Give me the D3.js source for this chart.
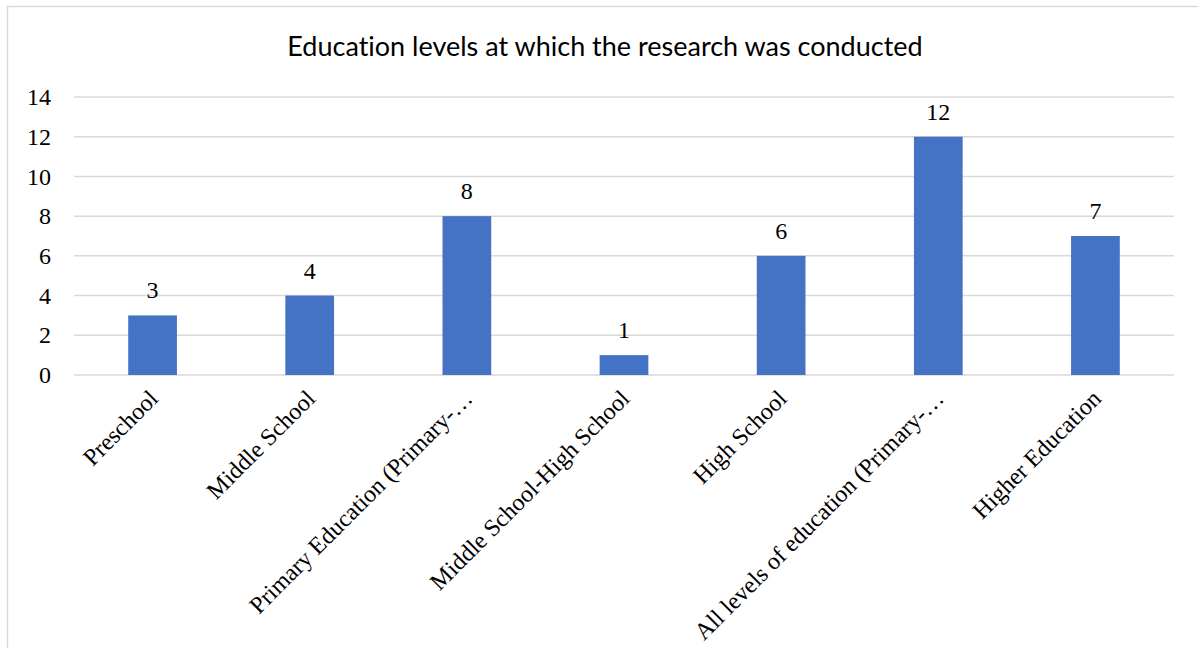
<!DOCTYPE html>
<html lang="en">
<head>
    <meta charset="UTF-8">
    <title>Education levels at which the research was conducted</title>
    <script src="https://d3js.org/d3.v7.min.js"></script>
    <style>
        body {
            margin: 0;
            background: #ffffff;
        }
        .tick-label, .bar-label, .x-label {
            font-family: 'Liberation Serif', 'Times New Roman', serif;
            font-size: 24px;
            fill: #000000;
        }
        .title {
            font-family: 'Lato', 'Open Sans', sans-serif;
            font-size: 27px;
            font-variant-ligatures: none;
            fill: #000000;
        }
    </style>
</head>
<body>
    <div id="chart"></div>
    <script>
    // chart data
    const categories = [
        "Preschool",
        "Middle School",
        "Primary Education (Primary-\u2026",
        "Middle School-High School",
        "High School",
        "All levels of education (Primary-\u2026",
        "Higher Education"
    ];
    const counts = [3, 4, 8, 1, 6, 12, 7];
    const yTicks = [0, 2, 4, 6, 8, 10, 12, 14];
    const chartTitle = "Education levels at which the research was conducted";

    const W = 1198, H = 648;
    const margin = { top: 97, right: 24, bottom: 273, left: 74 };
    const width = W - margin.left - margin.right;
    const height = H - margin.top - margin.bottom;

    const svg = d3.select("#chart")
        .append("svg")
        .attr("width", W)
        .attr("height", H);

    // outer chart frame (cropped at right and bottom)
    svg.append("rect")
        .attr("x", 7.5)
        .attr("y", 6.5)
        .attr("width", 1300)
        .attr("height", 800)
        .attr("fill", "none")
        .attr("stroke", "#d9d9d9")
        .attr("stroke-width", 1.5);

    svg.append("text")
        .attr("class", "title")
        .attr("x", 605)
        .attr("y", 56)
        .attr("text-anchor", "middle")
        .text(chartTitle);

    const g = svg.append("g")
        .attr("transform", `translate(${margin.left},${margin.top})`);

    const x = d3.scaleBand()
        .domain(categories)
        .range([0, width])
        .paddingInner(0.69)
        .paddingOuter(0.345);

    const y = d3.scaleLinear()
        .domain([0, 14])
        .range([height, 0]);

    // gridlines
    g.selectAll(".grid")
        .data(yTicks)
        .enter().append("line")
        .attr("class", "grid")
        .attr("x1", 0)
        .attr("x2", width)
        .attr("y1", d => y(d))
        .attr("y2", d => y(d))
        .attr("stroke", "#d9d9d9")
        .attr("stroke-width", 1.5);

    // y tick labels
    g.selectAll(".tick-label")
        .data(yTicks)
        .enter().append("text")
        .attr("class", "tick-label")
        .attr("x", -23)
        .attr("y", d => y(d))
        .attr("dy", "0.34em")
        .attr("text-anchor", "end")
        .text(d => d);

    // bars
    g.selectAll(".bar")
        .data(counts)
        .enter().append("rect")
        .attr("class", "bar")
        .attr("x", (d, i) => x(categories[i]))
        .attr("y", d => y(d))
        .attr("width", x.bandwidth())
        .attr("height", d => height - y(d))
        .attr("fill", "#4472c4");

    // value labels
    g.selectAll(".bar-label")
        .data(counts)
        .enter().append("text")
        .attr("class", "bar-label")
        .attr("x", (d, i) => x(categories[i]) + x.bandwidth() / 2)
        .attr("y", d => y(d) - 17)
        .attr("text-anchor", "middle")
        .text(d => d);

    // rotated category labels
    g.selectAll(".x-label")
        .data(categories)
        .enter().append("text")
        .attr("class", "x-label")
        .attr("text-anchor", "end")
        .attr("transform", d => `translate(${x(d) + x.bandwidth() / 2 + 7},${height + 25}) rotate(-45)`)
        .text(d => d);
    </script>
</body>
</html>
